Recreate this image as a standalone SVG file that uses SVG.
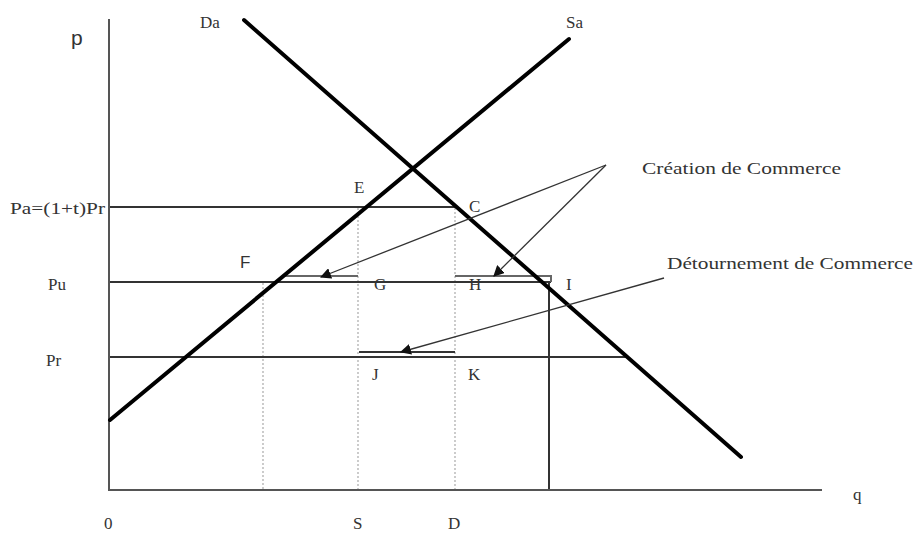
<svg xmlns="http://www.w3.org/2000/svg" width="916" height="536" viewBox="0 0 916 536">
<style>
.axis{stroke:#555;stroke-width:2;fill:none}
.curve{stroke:#000;stroke-width:4;fill:none;stroke-linecap:round}
.hl{stroke:#333;stroke-width:2;fill:none}
.seg{stroke:#666;stroke-width:2;fill:none}
.dot{stroke:#aaa;stroke-width:1.2;stroke-dasharray:2 2;fill:none}
.arr{stroke:#333;stroke-width:1.3;fill:none;marker-end:url(#ah)}
text{font-family:"Liberation Serif","Times New Roman",serif;font-size:17px;fill:#333}
.sans{font-family:"Liberation Sans",Arial,sans-serif;font-size:17px}
.big{font-size:21px}
</style>
<defs>
<marker id="ah" viewBox="0 0 10 10" refX="9" refY="5" markerWidth="11" markerHeight="11" markerUnits="userSpaceOnUse" orient="auto">
<path d="M0,0 L10,5 L0,10 z" fill="#111"/>
</marker>
</defs>
<rect width="916" height="536" fill="#fff"/>
<g id="dotted">
<line class="dot" x1="263" y1="283" x2="263" y2="490"/>
<line class="dot" x1="358" y1="208" x2="358" y2="490"/>
<line class="dot" x1="455" y1="208" x2="455" y2="490"/>
</g>
<g id="levels">
<line class="hl" x1="109" y1="207" x2="455" y2="207"/>
<line class="hl" x1="109" y1="282" x2="551" y2="282"/>
<line class="hl" x1="109" y1="357" x2="626" y2="357"/>
<line class="seg" x1="283" y1="276" x2="358" y2="276"/>
<polyline class="seg" points="455,276 551,276 551,282"/>
<line class="hl" x1="549" y1="282" x2="549" y2="490"/>
<line class="hl" x1="359" y1="352" x2="455" y2="352"/>
</g>
<g id="axes">
<line class="axis" x1="109" y1="19" x2="109" y2="491"/>
<line class="axis" x1="108" y1="490" x2="822" y2="490"/>
</g>
<g id="curves">
<line id="Da" class="curve" x1="244" y1="20" x2="741" y2="457"/>
<line id="Sa" class="curve" x1="110" y1="420" x2="569" y2="39"/>
</g>
<g id="connectors">
<line class="arr" x1="606" y1="165" x2="321" y2="277"/>
<line class="arr" x1="606" y1="165" x2="494" y2="276"/>
<line class="arr" x1="664" y1="278" x2="401" y2="352"/>
</g>
<g id="labels">
<text class="sans big" x="71" y="45">p</text>
<text x="200" y="28">Da</text>
<text x="566" y="28">Sa</text>
<text x="10" y="214" textLength="95" lengthAdjust="spacingAndGlyphs">Pa=(1+t)Pr</text>
<text x="48" y="290">Pu</text>
<text x="46" y="366">Pr</text>
<text class="sans" x="240" y="268">F</text>
<text x="354" y="193">E</text>
<text x="469" y="212">C</text>
<text x="374" y="290">G</text>
<text x="469" y="290">H</text>
<text x="566" y="290">I</text>
<text x="372" y="380">J</text>
<text x="468" y="380">K</text>
<text x="642" y="174" textLength="199" lengthAdjust="spacingAndGlyphs">Création de Commerce</text>
<text x="667" y="269" textLength="246" lengthAdjust="spacingAndGlyphs">Détournement de Commerce</text>
<text x="104" y="529">0</text>
<text x="353" y="529">S</text>
<text x="448" y="529">D</text>
<text x="853" y="500">q</text>
</g>
</svg>
